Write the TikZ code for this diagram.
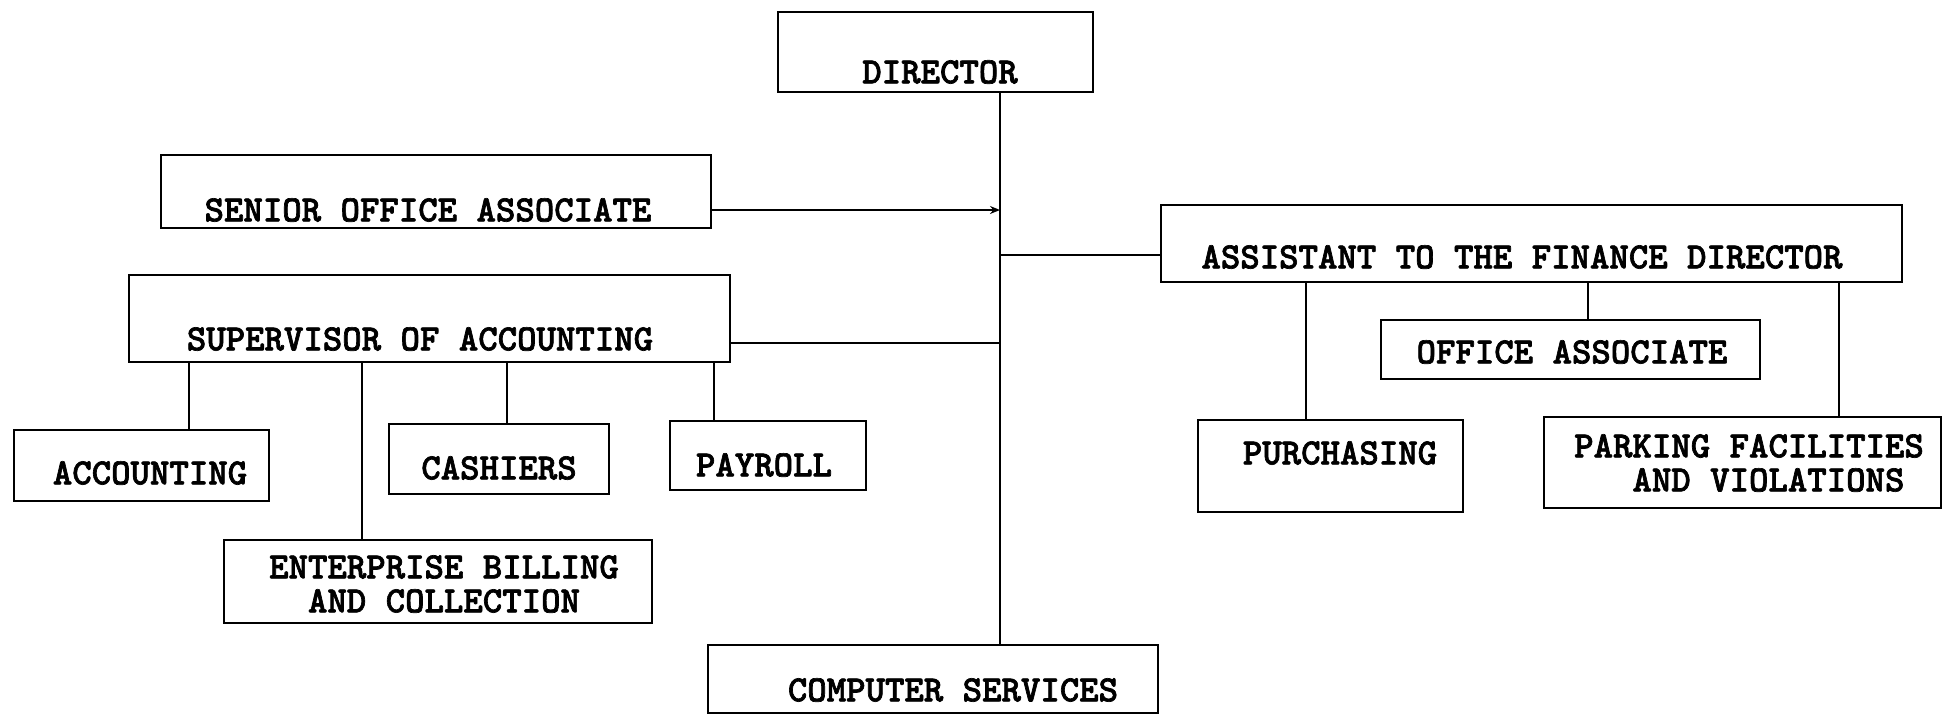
\documentclass[tikz,border=0pt]{standalone}
\usepackage{fontspec}
\newfontfamily\twfont{lmmonolt10-bold}[Extension=.otf, FakeBold=1.8]
\usetikzlibrary{fit,arrows.meta}
\begin{document}
\begin{tikzpicture}[x=1pt,y=-1pt,
  box/.style={draw, line width=2.6pt, inner sep=0pt},
  txt/.style={font=\twfont\fontsize{37}{34}\selectfont, inner sep=0pt},
  link/.style={line width=2.2pt}]
\fill[white] (0,0) rectangle (1944,716);
\useasboundingbox (0,0) rectangle (1944,716);

% boxes
\node[box, fit={(778,12) (1093,92)}] (dir) {};
\node[box, fit={(161,155) (711,228)}] (soa) {};
\node[box, fit={(129,275) (730,362)}] (sup) {};
\node[box, fit={(14,430) (269,501)}] (acc) {};
\node[box, fit={(389,424) (609,494)}] (cash) {};
\node[box, fit={(670,421) (866,490)}] (pay) {};
\node[box, fit={(224,540) (652,623)}] (ebc) {};
\node[box, fit={(708,645) (1158,713)}] (cs) {};
\node[box, fit={(1161,205) (1902,282)}] (afd) {};
\node[box, fit={(1381,320) (1760,379)}] (oa) {};
\node[box, fit={(1198,420) (1463,512)}] (pur) {};
\node[box, fit={(1544,417) (1941,508)}] (park) {};

% texts
\node[txt] (tdir) at (940,72) {DIRECTOR};
\node[txt] (tsoa) at (428,210) {SENIOR OFFICE ASSOCIATE};
\node[txt] (tsup) at (420,339) {SUPERVISOR OF ACCOUNTING};
\node[txt] (tacc) at (150,473) {ACCOUNTING};
\node[txt] (tcash) at (499,468) {CASHIERS};
\node[txt] (tpay) at (764,465) {PAYROLL};
\node[txt, align=center] (tebc) at (444,584) {ENTERPRISE BILLING\\AND COLLECTION};
\node[txt] (tcs) at (953,690) {COMPUTER SERVICES};
\node[txt] (tafd) at (1522,257) {ASSISTANT TO THE FINANCE DIRECTOR};
\node[txt] (toa) at (1572,352) {OFFICE ASSOCIATE};
\node[txt] (tpur) at (1340,453) {PURCHASING};
\node[txt, align=left, anchor=west] (tpark) at (1574,463) {PARKING FACILITIES\\\phantom{XXX}AND VIOLATIONS};

% reference coordinates
\coordinate (spine) at (1000,0);
\coordinate (hS) at (0,210);
\coordinate (hA) at (0,255);
\coordinate (hU) at (0,343);
\coordinate (dA) at (189,0);
\coordinate (dB) at (362,0);
\coordinate (dC) at (507,0);
\coordinate (dD) at (714,0);
\coordinate (dE) at (1306,0);
\coordinate (dF) at (1588,0);
\coordinate (dG) at (1839,0);

% connectors
\draw[link] (dir.south -| spine) -- (cs.north -| spine);
\draw[link,-{Stealth[length=10pt,width=8pt]}] (soa.east |- hS) -- (spine |- hS);
\draw[link] (spine |- hA) -- (afd.west |- hA);
\draw[link] (sup.east |- hU) -- (spine |- hU);
\draw[link] (sup.south -| dA) -- (acc.north -| dA);
\draw[link] (sup.south -| dB) -- (ebc.north -| dB);
\draw[link] (sup.south -| dC) -- (cash.north -| dC);
\draw[link] (sup.south -| dD) -- (pay.north -| dD);
\draw[link] (afd.south -| dE) -- (pur.north -| dE);
\draw[link] (afd.south -| dF) -- (oa.north -| dF);
\draw[link] (afd.south -| dG) -- (park.north -| dG);
\end{tikzpicture}
\end{document}
